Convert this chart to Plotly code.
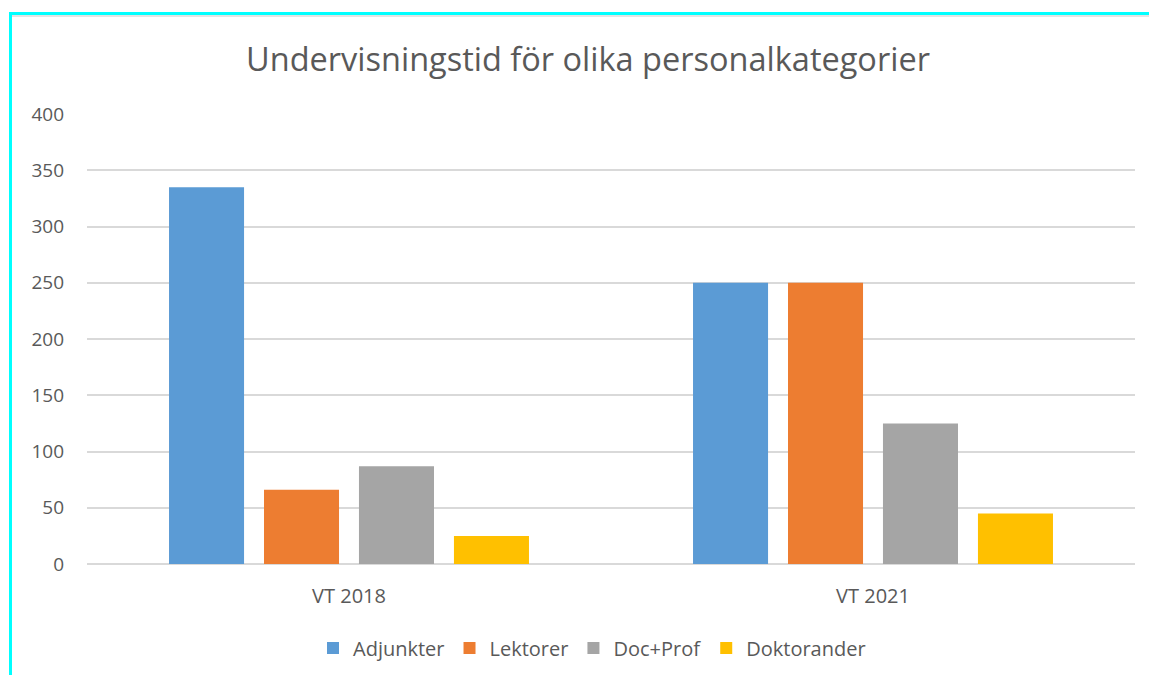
import plotly.graph_objects as go

categories = ["VT 2018", "VT 2021"]
series_names = ["Adjunkter", "Lektorer", "Doc+Prof", "Doktorander"]
adjunkter = [335, 250]
lektorer = [66, 250]
doc_prof = [87, 125]
doktorander = [25, 45]
colors = ["#5B9BD5", "#ED7D31", "#A5A5A5", "#FFC000"]
y_ticks = [0, 50, 100, 150, 200, 250, 300, 350, 400]

W, H = 1149, 675
L, R, T, B = 87, 14, 114, 111
pw, ph = W - L - R, H - T - B

def px(x):
    return (x - L) / pw

def py(y):
    return (H - B - y) / ph

fig = go.Figure()
for name, vals, c in zip(series_names, [adjunkter, lektorer, doc_prof, doktorander], colors):
    fig.add_trace(go.Bar(name=name, x=categories, y=vals, marker=dict(color=c, line=dict(width=0))))

shapes = [
    dict(type="rect", xref="paper", yref="paper", x0=px(12), x1=px(1149), y0=py(17), y1=py(15),
         fillcolor="#E4E4E4", line=dict(width=0), layer="above"),
    dict(type="rect", xref="paper", yref="paper", x0=px(9), x1=px(1149), y0=py(15), y1=py(12),
         fillcolor="#00FFFF", line=dict(width=0), layer="above"),
    dict(type="rect", xref="paper", yref="paper", x0=px(9), x1=px(12), y0=py(675), y1=py(12),
         fillcolor="#00FFFF", line=dict(width=0), layer="above"),
]

fig.update_layout(
    width=W, height=H,
    margin=dict(l=L, r=R, t=T, b=B, autoexpand=False),
    paper_bgcolor="white", plot_bgcolor="white",
    font=dict(family="Open Sans, Noto Sans, sans-serif", color="#595959", size=19),
    title=dict(text="Undervisningstid för olika personalkategorier", x=px(588), xanchor="center",
               xref="paper", y=1 - 60 / H, yanchor="middle", font=dict(size=32.5, color="#595959")),
    barmode="group", bargap=0.275, bargroupgap=0.21,
    xaxis=dict(showgrid=False, showline=False, ticks="", ticklabelstandoff=18,
               tickfont=dict(size=20, color="#595959")),
    yaxis=dict(range=[0, 400], tickvals=y_ticks, showgrid=True, gridcolor="#D9D9D9", gridwidth=1.5,
               zeroline=True, zerolinecolor="#D9D9D9", zerolinewidth=1.5, showline=False,
               ticks="", ticklabelstandoff=22, tickfont=dict(size=19, color="#595959")),
    legend=dict(orientation="h", x=px(592), xanchor="center", y=py(648), yanchor="middle",
                font=dict(size=20, color="#595959"), itemwidth=30, traceorder="normal"),
    shapes=shapes,
    showlegend=True,
)

fig.write_html("out.html", config={"displayModeBar": False},
               post_script="document.body.style.margin='0px';")
